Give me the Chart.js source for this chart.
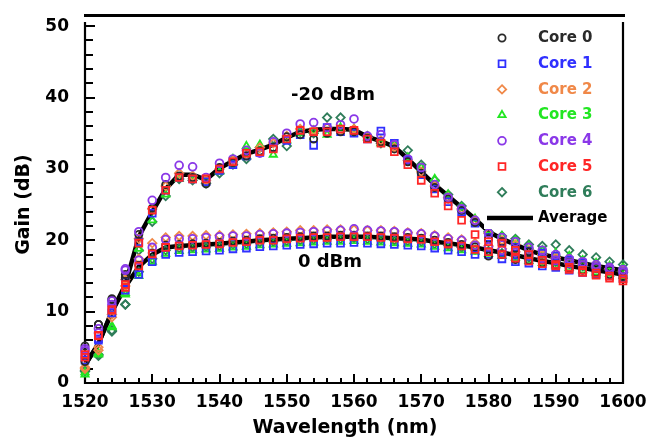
<!DOCTYPE html>
<html><head><meta charset="utf-8">
<script src="https://cdn.jsdelivr.net/npm/chart.js@4/dist/chart.umd.min.js"></script>
<style>html,body{margin:0;padding:0;background:#fff}#wrap{width:662px;height:446px}</style>
</head><body><div id="wrap"><canvas id="c" width="662" height="446"></canvas></div>
<script>
// ---- data ----
const wavelengths = [1520,1522,1524,1526,1528,1530,1532,1534,1536,1538,1540,1542,1544,1546,1548,1550,1552,1554,1556,1558,1560,1562,1564,1566,1568,1570,1572,1574,1576,1578,1580,1582,1584,1586,1588,1590,1592,1594,1596,1598,1600];
const xTickLabels = [1520,1530,1540,1550,1560,1570,1580,1590,1600];
const yTickLabels = [0,10,20,30,40,50];
const coreNames = ['Core 0','Core 1','Core 2','Core 3','Core 4','Core 5','Core 6'];

// average gain, -20 dBm input and 0 dBm input
const avgHigh = [2.5,5.5,10.0,13.8,20.5,24.0,27.2,29.2,29.2,28.5,30.1,31.1,32.1,32.7,33.4,34.4,35.2,35.5,35.6,35.6,35.5,34.5,33.9,33.1,31.4,29.6,27.8,26.2,24.6,23.0,21.2,20.2,19.4,18.6,18.0,17.6,17.2,16.8,16.4,16.1,15.8];
const avgLow  = [2.5,5.5,10.0,13.5,16.3,18.0,19.0,19.2,19.3,19.4,19.5,19.7,19.8,20.0,20.1,20.2,20.3,20.4,20.5,20.5,20.5,20.5,20.4,20.3,20.2,20.1,19.8,19.6,19.3,19.0,18.6,18.3,17.9,17.5,17.1,16.8,16.4,16.1,15.8,15.5,15.2];

// per core, -20 dBm
const core0High = [5.2,8.2,11.8,15.2,20.8,24.5,27.8,29.0,28.8,27.9,30.2,30.9,31.8,32.5,33.0,34.5,34.8,34.2,35.0,35.2,35.2,34.3,33.8,32.8,31.0,29.4,27.4,25.8,24.2,22.5,20.2,19.8,18.9,18.4,17.6,17.2,16.9,16.5,16.1,15.8,15.5];
const core1High = [3.2,6.2,10.4,14.2,19.8,23.8,27.0,28.8,28.6,28.2,29.8,30.6,31.8,32.3,33.0,34.0,34.8,33.3,35.8,35.2,35.0,34.2,35.3,33.6,31.2,29.2,27.2,25.4,24.0,22.4,20.4,19.8,19.0,18.5,18.2,17.8,17.2,16.8,16.3,15.9,15.6];
const core2High = [2.0,4.6,9.2,13.6,20.2,24.4,27.6,29.4,29.0,28.4,30.0,31.2,32.0,33.0,33.6,34.6,35.6,35.4,35.8,35.4,35.6,34.4,34.0,33.0,31.2,29.6,27.6,26.0,24.4,22.8,21.0,20.0,19.4,18.6,18.0,17.6,17.2,16.7,16.4,16.0,15.8];
const core3High = [1.2,4.0,7.8,12.6,18.8,22.8,26.4,28.6,29.0,28.4,29.6,31.4,33.2,33.4,32.0,34.0,35.0,35.4,34.8,35.8,35.6,34.4,33.6,33.4,31.6,30.2,28.6,26.4,24.6,23.0,21.4,20.6,20.0,19.2,18.6,18.2,17.8,17.2,16.8,16.4,16.2];
const core4High = [4.5,7.6,11.5,16.0,21.2,25.6,28.8,30.5,30.3,28.8,30.8,31.4,32.6,32.2,33.8,35.0,36.3,36.5,35.8,36.2,37.0,34.6,34.8,33.4,31.4,30.2,27.8,26.0,24.4,22.8,21.0,20.4,19.8,19.0,18.6,18.0,17.4,17.0,16.6,16.2,15.9];
const core5High = [3.6,6.6,10.2,13.8,19.6,24.2,27.0,28.8,28.6,28.6,30.0,31.0,32.2,32.4,32.8,34.2,35.4,35.2,35.2,35.6,35.4,34.2,33.6,32.4,30.6,28.4,26.6,24.8,22.8,20.8,19.8,19.6,18.6,18.0,17.2,16.6,16.2,15.8,15.4,15.0,14.6];
const core6High = [1.6,3.8,7.2,11.0,18.6,22.6,26.2,28.6,28.4,28.0,29.4,30.6,31.4,33.0,34.2,33.2,35.2,35.0,37.2,37.2,35.4,34.6,33.6,33.4,32.6,30.6,28.4,26.4,24.8,22.6,21.2,20.6,20.2,19.4,19.2,19.4,18.6,18.0,17.6,17.0,16.6];

// per core, 0 dBm
const core0Low = [3.0,8.2,11.6,14.8,16.5,18.2,19.3,19.4,19.5,19.6,19.7,19.9,20.0,20.2,20.3,20.4,20.5,20.6,20.6,20.7,20.7,20.6,20.6,20.5,20.4,20.3,20.0,19.7,19.4,19.1,17.8,18.0,17.3,17.2,16.8,16.6,16.1,15.8,15.5,15.2,14.9];
const core1Low = [3.8,6.0,9.8,13.0,15.2,17.0,18.0,18.3,18.4,18.5,18.6,18.8,18.9,19.1,19.2,19.3,19.4,19.5,19.6,19.6,19.7,19.6,19.5,19.4,19.3,19.2,18.9,18.6,18.4,18.0,18.0,17.4,17.0,16.8,16.4,16.2,15.8,15.5,15.2,15.0,14.7];
const core2Low = [2.2,5.0,9.6,14.5,17.4,19.6,20.4,20.6,20.6,20.7,20.7,20.8,20.9,21.0,21.1,21.2,21.4,21.4,21.5,21.5,21.5,21.4,21.4,21.3,21.1,21.0,20.7,20.4,20.1,19.6,19.2,18.8,18.4,18.0,17.6,17.3,16.9,16.6,16.3,16.0,15.6];
const core3Low = [1.5,4.2,8.0,12.4,15.0,17.0,18.1,18.5,18.6,18.7,18.8,19.0,19.1,19.3,19.4,19.5,19.6,19.7,19.8,19.8,19.9,19.8,19.7,19.6,19.5,19.4,19.1,18.9,18.6,18.4,18.1,17.8,17.5,17.1,16.8,16.5,16.1,15.8,15.5,15.3,15.0];
const core4Low = [4.8,7.0,11.0,15.8,17.2,19.0,20.1,20.2,20.2,20.4,20.5,20.6,20.6,20.8,20.9,21.0,21.1,21.2,21.3,21.4,21.6,21.4,21.3,21.2,21.0,20.9,20.6,20.2,20.0,19.3,19.1,18.6,18.3,17.9,17.5,17.2,16.8,16.5,16.2,15.9,15.5];
const core5Low = [4.0,6.7,10.3,13.4,16.4,18.1,19.0,19.2,19.3,19.4,19.5,19.7,19.8,20.0,20.0,20.2,20.3,20.4,20.4,20.5,20.5,20.5,20.4,20.3,20.2,20.1,19.8,19.5,19.2,18.7,18.4,18.0,17.5,17.1,16.7,16.4,15.9,15.5,15.1,14.7,14.3];
const core6Low = [1.8,4.0,7.4,11.0,15.6,17.4,18.6,18.9,19.0,19.1,19.2,19.4,19.5,19.7,19.8,19.9,20.0,20.1,20.2,20.2,20.3,20.2,20.1,20.0,19.9,19.8,19.5,19.3,19.0,18.7,18.5,18.2,17.9,17.6,17.3,17.0,16.7,16.4,16.1,15.8,15.5];

const coreHigh = [core0High,core1High,core2High,core3High,core4High,core5High,core6High];
const coreLow  = [core0Low,core1Low,core2Low,core3Low,core4Low,core5Low,core6Low];

// ---- styles ----
const coreColors = ['#2a2a2a','#3030ff','#f08848','#22e622','#8a38e8','#ff2626','#2f7d5a'];
const coreStyles = ['circle','rect','rectRot','triangle','circle','rect','rectRot'];
const coreRadius = [3.6,4.8,4.2,4.2,3.9,4.8,4.2];
const coreOrder  = [3,4,5,6,2,1,7];
const FONT = "'DejaVu Sans', sans-serif";

const toPts = arr => arr.map((v,i)=>({x: wavelengths[i], y: v}));

const datasets = coreNames.map((name,k)=>({
  type: 'scatter',
  label: name,
  data: toPts(coreHigh[k]).concat(toPts(coreLow[k])),
  showLine: false,
  borderColor: coreColors[k],
  backgroundColor: 'rgba(0,0,0,0)',
  pointStyle: coreStyles[k],
  pointRadius: coreRadius[k],
  pointBorderWidth: 1.8,
  pointHoverRadius: coreRadius[k],
  order: coreOrder[k],
  clip: false
}));
datasets.push({type:'line',label:'Average',data:toPts(avgHigh),borderColor:'#000',borderWidth:4.5,pointRadius:0,tension:0,order:20,clip:false});
datasets.push({type:'line',label:'Average 0 dBm',data:toPts(avgLow),borderColor:'#000',borderWidth:4.5,pointRadius:0,tension:0,order:21,clip:false});

function pathMarker(ctx, style, x, y, r){
  ctx.beginPath();
  if(style==='circle'){ ctx.arc(x,y,r,0,Math.PI*2); }
  else if(style==='rect'){ const s=r*Math.SQRT1_2; ctx.rect(x-s,y-s,2*s,2*s); }
  else if(style==='rectRot'){ ctx.moveTo(x,y-r); ctx.lineTo(x+r,y); ctx.lineTo(x,y+r); ctx.lineTo(x-r,y); ctx.closePath(); }
  else if(style==='triangle'){ ctx.moveTo(x,y-r); ctx.lineTo(x+r*0.87,y+r*0.5); ctx.lineTo(x-r*0.87,y+r*0.5); ctx.closePath(); }
}

const framePlugin = {
  id:'frame',
  beforeDatasetsDraw(chart){
    const ctx=chart.ctx, xs=chart.scales.x, ys=chart.scales.y;
    const L=xs.getPixelForValue(1520), R=xs.getPixelForValue(1600), B=ys.getPixelForValue(0);
    ctx.save();
    ctx.strokeStyle='#000'; ctx.lineCap='butt';
    ctx.lineWidth=2.2;
    ctx.beginPath();
    ctx.moveTo(L,22); ctx.lineTo(L,B+1);
    ctx.moveTo(L-1,B); ctx.lineTo(R+1,B);
    ctx.moveTo(R,22); ctx.lineTo(R,B+1);
    ctx.stroke();
    ctx.lineWidth=3;
    ctx.beginPath(); ctx.moveTo(L-1,15.5); ctx.lineTo(R+2,15.5); ctx.stroke();
    ctx.lineWidth=2;
    ctx.beginPath();
    for(let v=2; v<=50; v+=2){
      const y=Math.round(ys.getPixelForValue(v));
      const len = (v%10===0)?10:8;
      ctx.moveTo(L,y); ctx.lineTo(L+len,y);
    }
    for(let w=1522; w<1600; w+=2){
      const x=Math.round(xs.getPixelForValue(w));
      const len = (w%10===0)?9:5;
      ctx.moveTo(x,B); ctx.lineTo(x,B-len);
    }
    ctx.stroke();
    // axis titles
    ctx.fillStyle='#000';
    ctx.font="bold 19px "+FONT;
    ctx.textAlign='center'; ctx.textBaseline='middle';
    ctx.fillText('Wavelength (nm)', 345, 428);
    ctx.save(); ctx.translate(24, (ys.getPixelForValue(25))); ctx.rotate(-Math.PI/2);
    ctx.fillText('Gain (dB)', 0, 0); ctx.restore();
    // curve annotations
    ctx.font="bold 18px "+FONT;
    ctx.fillText('-20 dBm', 333, 95);
    ctx.fillText('0 dBm', 330, 262);
    ctx.restore();
  },
  afterDatasetsDraw(chart){
    const ctx=chart.ctx;
    ctx.save();
    ctx.fillStyle='#fff';
    ctx.fillRect(484, 24, 137, 205);
    const cores = chart.data.datasets.filter(d=>d.type==='scatter');
    ctx.font="bold 15px "+FONT;
    ctx.textAlign='left'; ctx.textBaseline='middle';
    cores.forEach((d,i)=>{
      const y = 38 + i*25.7;
      ctx.strokeStyle=d.borderColor; ctx.lineWidth=1.8;
      pathMarker(ctx, d.pointStyle, 502, y, d.pointRadius);
      ctx.stroke();
      ctx.fillStyle=d.borderColor;
      ctx.fillText(d.label, 538, y+0.5);
    });
    const ya = 38 + 7*25.7;
    ctx.strokeStyle='#000'; ctx.lineWidth=4.5;
    ctx.beginPath(); ctx.moveTo(487,ya); ctx.lineTo(533,ya); ctx.stroke();
    ctx.fillStyle='#000';
    ctx.fillText('Average', 538, ya+0.5);
    ctx.restore();
  }
};

new Chart(document.getElementById('c'), {
  data: { datasets },
  options: {
    responsive:false, animation:false, devicePixelRatio:1,
    layout:{ padding:{ top:24, right:39, left:0, bottom:0 } },
    plugins:{ legend:{display:false}, tooltip:{enabled:false} },
    scales:{
      x:{ type:'linear', min:1520, max:1600,
          afterBuildTicks: s=>{ s.ticks = xTickLabels.map(v=>({value:v})); },
          afterFit: s=>{ s.height = 63; },
          grid:{display:false, drawTicks:false}, border:{display:false},
          ticks:{ padding:9, color:'#000', font:{family:FONT, weight:'bold', size:17}, maxRotation:0, autoSkip:false,
                  callback: v => String(v) } },
      y:{ type:'linear', min:0, max:50,
          afterBuildTicks: s=>{ s.ticks = yTickLabels.map(v=>({value:v})); },
          afterFit: s=>{ s.width = 85; },
          grid:{display:false, drawTicks:false}, border:{display:false},
          ticks:{ padding:16, color:'#000', font:{family:FONT, weight:'bold', size:17}, callback: v => String(v) } }
    }
  },
  plugins:[framePlugin]
});
</script>
</body></html>
